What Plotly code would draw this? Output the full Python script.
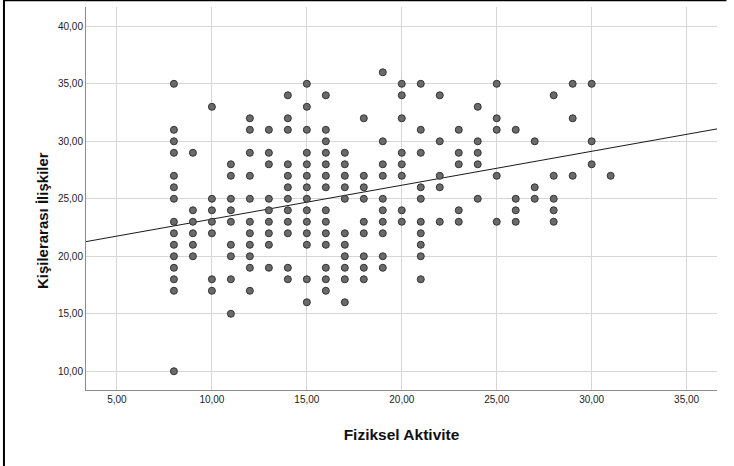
import plotly.graph_objects as go

# Fiziksel Aktivite (x) -> list of Kişilerarası İlişkiler (y) values observed
columns = {
    8:  [35, 31, 30, 29, 27, 26, 25, 23, 22, 21, 20, 19, 18, 17, 10],
    9:  [29, 24, 23, 22, 21, 20],
    10: [33, 25, 24, 23, 22, 18, 17],
    11: [28, 27, 25, 24, 23, 21, 20, 18, 15],
    12: [32, 31, 29, 27, 25, 23, 22, 21, 20, 19, 17],
    13: [31, 29, 28, 25, 24, 23, 22, 21, 19],
    14: [34, 32, 31, 28, 27, 26, 25, 24, 23, 22, 19, 18],
    15: [35, 33, 31, 29, 28, 27, 26, 25, 24, 23, 22, 21, 18, 16],
    16: [34, 31, 30, 29, 28, 27, 26, 24, 23, 22, 21, 19, 18, 17],
    17: [29, 28, 27, 26, 25, 22, 21, 20, 19, 18, 16],
    18: [32, 27, 26, 25, 23, 22, 20, 19, 18],
    19: [36, 30, 28, 27, 25, 24, 23, 22, 20, 19],
    20: [35, 34, 32, 29, 28, 27, 24, 23],
    21: [35, 31, 29, 26, 25, 23, 22, 21, 20, 18],
    22: [34, 30, 27, 26, 23],
    23: [31, 29, 28, 24, 23],
    24: [33, 30, 29, 28, 25],
    25: [35, 32, 31, 27, 23],
    26: [31, 25, 24, 23],
    27: [30, 26, 25],
    28: [34, 27, 25, 24, 23],
    29: [35, 32, 27],
    30: [35, 30, 28],
    31: [27],
}

x_vals = [x for x, ys in columns.items() for _ in ys]
y_vals = [y for ys in columns.values() for y in ys]

x_ticks = [5, 10, 15, 20, 25, 30, 35]
x_labels = ["5,00", "10,00", "15,00", "20,00", "25,00", "30,00", "35,00"]
y_ticks = [10, 15, 20, 25, 30, 35, 40]
y_labels = ["10,00", "15,00", "20,00", "25,00", "30,00", "35,00", "40,00"]

x_range = [3.37, 36.6]
y_range = [8.37, 41.68]

fit_intercept = 20.28
fit_slope = 0.295

x_title = "Fiziksel Aktivite"
y_title = "Kişilerarası İlişkiler"

font = "Arial, Liberation Sans, sans-serif"

fig = go.Figure()
fig.add_trace(go.Scatter(
    x=x_range,
    y=[fit_intercept + fit_slope * v for v in x_range],
    mode="lines",
    line=dict(color="#1a1a1a", width=1),
    hoverinfo="skip",
    showlegend=False,
))
fig.add_trace(go.Scatter(
    x=x_vals, y=y_vals, mode="markers",
    marker=dict(size=7, color="#6a6a6a", line=dict(color="#333333", width=1)),
    showlegend=False,
))

axis_common = dict(
    showgrid=True, gridcolor="#d6d6d6", gridwidth=1,
    showline=True, linecolor="#8c8c8c", linewidth=1,
    zeroline=False, ticks="", tickfont=dict(family=font, size=10, color="#222222"),
)

fig.update_layout(
    width=734, height=466,
    margin=dict(l=86, r=17, t=7, b=76),
    paper_bgcolor="white", plot_bgcolor="white",
    font=dict(family=font),
    xaxis=dict(
        range=x_range, tickvals=x_ticks, ticktext=x_labels,
        title=dict(text="<b>" + x_title + "</b>", font=dict(family=font, size=15.5, color="#111111"), standoff=25),
        **axis_common,
    ),
    yaxis=dict(
        range=y_range, tickvals=y_ticks, ticktext=y_labels,
        **axis_common,
    ),
    annotations=[
        dict(text="<b>" + y_title + "</b>", xref="paper", yref="paper",
             x=-0.0697, y=0.441, textangle=-90, showarrow=False,
             xanchor="center", yanchor="middle",
             font=dict(family=font, size=15, color="#111111")),
    ],
    shapes=[
        dict(type="line", xref="paper", yref="paper",
             x0=-0.13, x1=-0.13, y0=-0.20, y1=1.02,
             line=dict(color="black", width=2)),
        dict(type="line", xref="paper", yref="paper",
             x0=-0.13, x1=1.015, y0=1.0175, y1=1.0175,
             line=dict(color="black", width=2)),
    ],
)

fig.write_html("out.html")
